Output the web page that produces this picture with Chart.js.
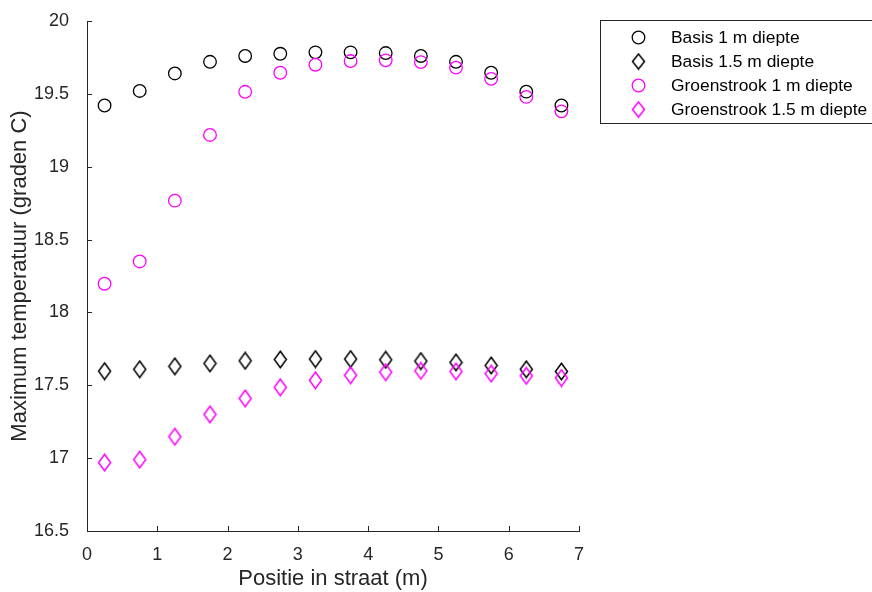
<!DOCTYPE html>
<html>
<head>
<meta charset="utf-8">
<script src="https://cdn.jsdelivr.net/npm/chart.js@4/dist/chart.umd.min.js"></script>
<style>
  html, body { margin: 0; padding: 0; background: #fff; }
  #wrap { width: 872px; height: 592px; }
</style>
</head>
<body>
<div id="wrap"><canvas id="tempChart" width="872" height="592"></canvas></div>
<script>
var positions = [0.25, 0.75, 1.25, 1.75, 2.25, 2.75, 3.25, 3.75, 4.25, 4.75, 5.25, 5.75, 6.25, 6.75];
var basis1m = [19.42, 19.52, 19.64, 19.72, 19.76, 19.775, 19.785, 19.785, 19.78, 19.76, 19.72, 19.645, 19.515, 19.42];
var basis15m = [17.597, 17.61, 17.63, 17.65, 17.668, 17.677, 17.68, 17.68, 17.675, 17.666, 17.657, 17.636, 17.61, 17.595];
var groen1m = [18.197, 18.35, 18.767, 19.218, 19.514, 19.645, 19.70, 19.725, 19.73, 19.718, 19.68, 19.603, 19.479, 19.38];
var groen15m = [16.97, 16.99, 17.147, 17.30, 17.41, 17.486, 17.534, 17.569, 17.59, 17.599, 17.595, 17.58, 17.565, 17.55];
var seriesLabels = ["Basis 1 m diepte", "Basis 1.5 m diepte", "Groenstrook 1 m diepte", "Groenstrook 1.5 m diepte"];
var yTicks = { min: 16.5, max: 20, step: 0.5 };
var xTicks = { min: 0, max: 7, step: 1 };

var axisColor = '#262626';
var fontFamily = '"Liberation Sans", Arial, sans-serif';

// tall diamond marker, drawn once and reused as a point image
function makeDiamond(color, w, h) {
    var c = document.createElement('canvas');
    c.width = w + 3;
    c.height = h + 3;
    var g = c.getContext('2d');
    var cx = c.width / 2, cy = c.height / 2;
    g.strokeStyle = color;
    g.lineWidth = 1.5;
    g.beginPath();
    g.moveTo(cx, cy - h / 2);
    g.lineTo(cx + w / 2, cy);
    g.lineTo(cx, cy + h / 2);
    g.lineTo(cx - w / 2, cy);
    g.closePath();
    g.stroke();
    return c;
}

function toPoints(values) {
    return values.map(function(v, i) { return { x: positions[i], y: v }; });
}

function makeSet(label, values, color, marker, legendMarker, order) {
    return {
        label: label,
        data: toPoints(values),
        showLine: false,
        pointStyle: marker,
        legendStyle: legendMarker,
        pointRadius: 6.3,
        pointBorderWidth: 1.3,
        pointBorderColor: color,
        pointBackgroundColor: 'rgba(0,0,0,0)',
        borderColor: color,
        order: order
    };
}

// inward tick marks on both axes (matlab style)
var innerTicks = {
    id: 'innerTicks',
    afterDraw: function(chart) {
        var ctx = chart.ctx;
        var area = chart.chartArea;
        var xs = chart.scales.x, ys = chart.scales.y;
        ctx.save();
        ctx.strokeStyle = axisColor;
        ctx.lineWidth = 1;
        ctx.beginPath();
        xs.ticks.forEach(function(t) {
            var px = Math.round(xs.getPixelForValue(t.value)) + 0.5;
            ctx.moveTo(px, area.bottom);
            ctx.lineTo(px, area.bottom - 5);
        });
        ys.ticks.forEach(function(t) {
            var py = Math.round(ys.getPixelForValue(t.value)) + 0.5;
            ctx.moveTo(area.left, py);
            ctx.lineTo(area.left + 5, py);
        });
        ctx.stroke();
        ctx.restore();
    }
};

// boxed legend to the right of the axes
var boxLegend = {
    id: 'boxLegend',
    afterDraw: function(chart) {
        var ctx = chart.ctx;
        var left = 600.5, top = 20.5, rowH = 24;
        ctx.save();
        ctx.fillStyle = '#fff';
        ctx.fillRect(left, top, 300, 103);
        ctx.strokeStyle = axisColor;
        ctx.lineWidth = 1;
        ctx.strokeRect(left, top, 300, 103);
        ctx.font = '17.4px ' + fontFamily;
        ctx.textBaseline = 'middle';
        chart.data.datasets.forEach(function(ds, i) {
            var cy = top + 17 + i * rowH;
            ctx.strokeStyle = ds.pointBorderColor;
            ctx.fillStyle = 'rgba(0,0,0,0)';
            ctx.lineWidth = ds.pointBorderWidth;
            Chart.helpers.drawPoint(ctx, { pointStyle: ds.legendStyle, radius: ds.pointRadius, borderWidth: ds.pointBorderWidth, rotation: 0 }, 638.5, cy);
            ctx.fillStyle = '#000';
            ctx.fillText(ds.label, 671, cy + 1);
        });
        ctx.restore();
    }
};

var tickFont = { family: fontFamily, size: 18 };
var titleFont = { family: fontFamily, size: 22 };

var ctx = document.getElementById('tempChart');
var chart = new Chart(ctx, {
    type: 'scatter',
    data: {
        datasets: [
            makeSet(seriesLabels[0], basis1m, '#000000', 'circle', 'circle', 4),
            makeSet(seriesLabels[1], basis15m, '#000000', makeDiamond('#000000', 12, 16.5), makeDiamond('#000000', 12, 15), 3),
            makeSet(seriesLabels[2], groen1m, '#ff00ff', 'circle', 'circle', 2),
            makeSet(seriesLabels[3], groen15m, '#ff00ff', makeDiamond('#ff00ff', 12, 16.5), makeDiamond('#ff00ff', 12, 15), 1)
        ]
    },
    options: {
        responsive: false,
        animation: false,
        events: [],
        layout: { padding: { left: 0, top: 21, right: 293, bottom: 0 } },
        plugins: {
            legend: { display: false },
            tooltip: { enabled: false }
        },
        scales: {
            x: {
                type: 'linear',
                min: xTicks.min,
                max: xTicks.max,
                afterFit: function(scale) { scale.height = 61; },
                ticks: { stepSize: xTicks.step, color: axisColor, padding: 5, font: tickFont },
                grid: { display: false },
                border: { display: true, color: axisColor, width: 1 },
                title: { display: true, text: 'Positie in straat (m)', color: axisColor, padding: { top: 0, bottom: 0 }, font: titleFont }
            },
            y: {
                type: 'linear',
                min: yTicks.min,
                max: yTicks.max,
                afterFit: function(scale) { scale.width = 87; },
                ticks: {
                    stepSize: yTicks.step,
                    color: axisColor,
                    padding: 10,
                    font: tickFont,
                    callback: function(v) { return String(v); }
                },
                grid: { display: false },
                border: { display: true, color: axisColor, width: 1 },
                title: { display: true, text: 'Maximum temperatuur (graden C)', color: axisColor, padding: { top: 7, bottom: 0 }, font: titleFont }
            }
        }
    },
    plugins: [innerTicks, boxLegend]
});
</script>
</body>
</html>
